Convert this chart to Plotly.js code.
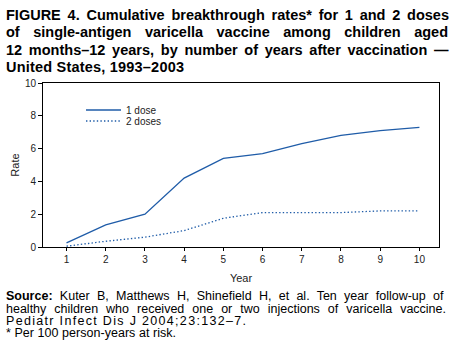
<!DOCTYPE html>
<html>
<head>
<meta charset="utf-8">
<script src="https://cdn.plot.ly/plotly-3.0.1.min.js"></script>
<style>html,body{margin:0;padding:0;background:#fff;}#chart{width:451px;height:359px;}</style>
</head>
<body>
<div id="chart"></div>
<script>
const years = [1, 2, 3, 4, 5, 6, 7, 8, 9, 10];
const oneDose = [0.25, 1.35, 2.0, 4.2, 5.4, 5.7, 6.3, 6.8, 7.1, 7.3];
const twoDoses = [0.05, 0.35, 0.6, 1.0, 1.75, 2.1, 2.1, 2.1, 2.2, 2.2];
const seriesNames = ["1 dose", "2 doses"];
const yTicks = [0, 2, 4, 6, 8, 10];

const titleLines = [
  "FIGURE 4. Cumulative breakthrough rates* for 1 and 2 doses",
  "of single-antigen varicella vaccine among children aged",
  "12 months\u201312 years, by number of years after vaccination \u2014",
  "United States, 1993\u20132003"
];
const footLines = [
  "<b>Source:</b> Kuter B, Matthews H, Shinefield H, et al. Ten year follow-up of",
  "healthy children who received one or two injections of varicella vaccine.",
  "Pediatr Infect Dis J 2004;23:132\u20137.",
  "* Per 100 person-years at risk."
];

const W = 451, H = 359;
const mL = 43, mR = 12, mT = 83, mB = 112;
const plotH = H - mT - mB, plotW = W - mL - mR;
function py(p){ return (H - mB - p) / plotH; }
function px(p){ return (p - mL) / plotW; }

const color = "#1f5ca8";
const font = "Liberation Sans, Arial, Helvetica, sans-serif";

const traces = [
  {x: years, y: oneDose, name: seriesNames[0], type: "scatter", mode: "lines",
   line: {color: color, width: 1.3}, legend: "legend"},
  {x: years, y: twoDoses, name: seriesNames[1], type: "scatter", mode: "lines",
   line: {color: color, width: 1.3, dash: "1.4px,2.2px"}, legend: "legend2"}
];

// text lines: y-center px, size, target right edge px, justified
const textSpecs = [];
const titleY = [15, 32.3, 49.6, 66.9];
const titleRight = [449, 448, 449, 184];
titleLines.forEach((t, i) => textSpecs.push({text: "<b>" + t + "</b>", y: titleY[i], size: 14.5, right: titleRight[i], just: i < 3}));
const footY = [296, 308.5, 321, 333];
const footRight = [444, 446, 246, 176];
footLines.forEach((t, i) => textSpecs.push({text: t, y: footY[i], size: 12.5, right: footRight[i], just: i < 2}));

const annotations = textSpecs.map(s => ({
  text: s.text, xref: "paper", yref: "paper", x: px(4), y: py(s.y),
  xanchor: "left", yanchor: "middle", align: "left", showarrow: false,
  font: {family: font, size: s.size, color: "#000"}
}));

const legFont = {family: font, size: 10, color: "#222"};
const layout = {
  width: W, height: H,
  margin: {l: mL, r: mR, t: mT, b: mB, pad: 0},
  paper_bgcolor: "#fff", plot_bgcolor: "#fff",
  showlegend: true,
  legend: {x: px(81), y: py(95.5), xanchor: "left", yanchor: "top",
    bgcolor: "rgba(0,0,0,0)", font: legFont, itemwidth: 35},
  legend2: {x: px(81), y: py(106.5), xanchor: "left", yanchor: "top",
    bgcolor: "rgba(0,0,0,0)", font: legFont, itemwidth: 35},
  xaxis: {range: [0.4, 10.5], tickvals: years, ticks: "outside", ticklen: 3,
    tickcolor: "#000", showline: true, linecolor: "#000", linewidth: 1, mirror: true,
    showgrid: false, zeroline: false,
    tickfont: {family: font, size: 10, color: "#222"},
    title: {text: "Year", font: {family: font, size: 11, color: "#222"}, standoff: 10}},
  yaxis: {range: [0, 10], tickvals: yTicks, ticks: "outside", ticklen: 4,
    tickcolor: "#000", showline: true, linecolor: "#000", linewidth: 1, mirror: true,
    showgrid: false, zeroline: false,
    tickfont: {family: font, size: 10, color: "#222"},
    title: {text: "Rate", font: {family: font, size: 11, color: "#222"}, standoff: 3}},
  annotations: annotations
};

Plotly.newPlot("chart", traces, layout, {displayModeBar: false, staticPlot: true}).then(gd => {
  // stretch text lines to the widths seen in the reference (justified lines use word spacing)
  const els = gd.querySelectorAll(".annotation .annotation-text");
  els.forEach((el, i) => {
    const s = textSpecs[i];
    if (!s) return;
    const bb = el.getBBox();
    const left = el.getBoundingClientRect().left;
    const extra = s.right - (left + bb.width);
    if (extra <= 0) return;
    const raw = el.textContent;
    if (s.just) {
      const n = (raw.match(/ /g) || []).length;
      if (n) el.style.wordSpacing = (extra / n) + "px";
    } else {
      const n = raw.length - 1;
      if (n) el.style.letterSpacing = (extra / n) + "px";
    }
  });
});
</script>
</body>
</html>
